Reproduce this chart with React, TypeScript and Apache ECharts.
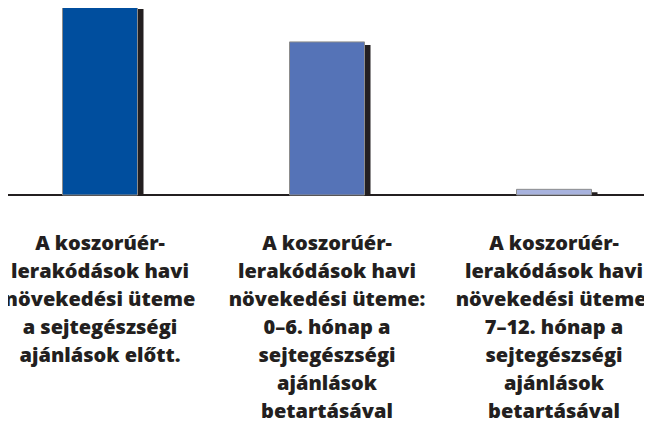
import React, { useEffect, useRef } from "react";
import * as echarts from "echarts";

const categories = [
  "A koszorúér-\nlerakódások havi\nnövekedési üteme\na sejtegészségi\najánlások előtt.",
  "A koszorúér-\nlerakódások havi\nnövekedési üteme:\n0–6. hónap a\nsejtegészségi\najánlások\nbetartásával",
  "A koszorúér-\nlerakódások havi\nnövekedési üteme:\n7–12. hónap a\nsejtegészségi\najánlások\nbetartásával",
];
const values = [100, 81, 3];
const barColors = ["#004e9e", "#5573b7", "#a8b3de"];

export default function App() {
  const ref = useRef<HTMLDivElement>(null);
  useEffect(() => {
    if (!ref.current) return;
    const chart = echarts.init(ref.current, undefined, { renderer: "svg" });
    const option: any = {
      animation: false,
      backgroundColor: "#ffffff",
      grid: [
        { left: -13.5, width: 681, top: 6, bottom: 234, outerBoundsMode: "none", containLabel: false },
        { left: 6, right: 4, top: 6, bottom: 234, outerBoundsMode: "none", containLabel: false },
      ],
      xAxis: [
        {
          type: "category",
          gridIndex: 0,
          data: categories,
          axisLine: { show: false },
          axisTick: { show: false },
          axisLabel: {
            interval: 0,
            margin: 33,
            color: "#231f20",
            fontFamily: "Open Sans",
            fontWeight: 800,
            fontSize: 20,
            lineHeight: 28,
            align: "center",
            verticalAlign: "top",
            hideOverlap: false,
          },
        },
        {
          type: "value",
          gridIndex: 1,
          min: 0,
          max: 1,
          axisLine: { show: true, lineStyle: { color: "#231f20", width: 2 } },
          axisTick: { show: false },
          axisLabel: { show: false },
          splitLine: { show: false },
        },
      ],
      yAxis: [
        { type: "value", gridIndex: 0, min: 0, max: 100, show: false },
        { type: "value", gridIndex: 1, min: 0, max: 1, show: false },
      ],
      series: [
        {
          type: "custom",
          xAxisIndex: 0,
          yAxisIndex: 0,
          clip: false,
          data: values.map((v, i) => [i, v]),
          renderItem: (params: any, api: any) => {
            const idx = api.value(0);
            const val = api.value(1);
            const top = api.coord([idx, val]);
            const base = api.coord([idx, 0]);
            const w = api.size([1, 0])[0] * (75 / 227);
            const x = top[0] - w / 2;
            const h = base[1] - top[1];
            return {
              type: "group",
              children: [
                {
                  type: "rect",
                  shape: { x: x + 6, y: top[1] + 3, width: w, height: Math.max(h - 3, 0) },
                  style: { fill: "#231f20" },
                },
                {
                  type: "rect",
                  shape: { x: x, y: top[1], width: w, height: h },
                  style: { fill: barColors[params.dataIndex], stroke: "#8c8c8c", lineWidth: 1 },
                },
              ],
            };
          },
        },
      ],
    };
    chart.setOption(option);
    return () => chart.dispose();
  }, []);
  return <div ref={ref} style={{ width: 652, height: 429, margin: -8 }} />;
}
